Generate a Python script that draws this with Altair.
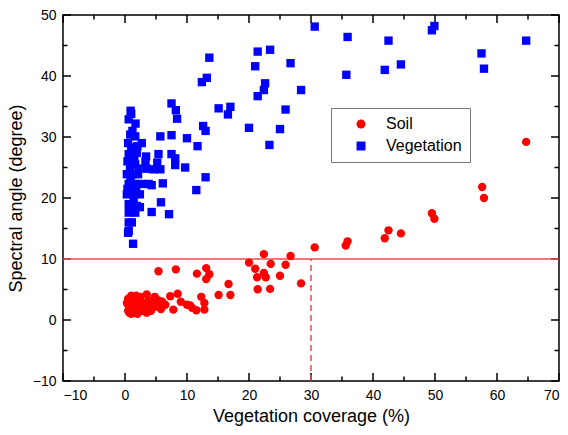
import altair as alt
import pandas as pd

# ---- data ----
soil_x = [64.7, 57.6, 57.9, 49.5, 49.9, 42.5, 41.9, 44.5, 35.9, 35.6, 30.6, 26.7, 22.4, 20.0,
          21.0, 23.5, 25.9, 22.4, 21.3, 22.7, 25.0, 21.4, 23.4, 28.4, 16.7, 15.1, 17.0, 13.1,
          13.6, 13.1, 11.6, 12.3, 12.8, 11.5, 12.8, 10.5, 5.4, 8.2, 3.5, 5.4, 7.3, 8.5, 7.8,
          10.0, 10.8, 6.5, 9.0,
          0.5, 0.5, 0.5, 0.8, 0.8, 1.0, 1.0, 1.2, 1.5, 1.5, 1.8, 1.8, 2.0, 2.2, 2.5, 2.5, 2.8,
          3.0, 3.2, 0.3, 1.3, 2.0, 2.7, 4.0, 4.5, 4.2, 5.0, 5.8, 6.0, 4.8, 3.8, 1.6, 0.7, 2.3, 3.5]
soil_y = [29.2, 21.8, 20.0, 17.5, 16.6, 14.7, 13.4, 14.2, 12.9, 12.2, 11.9, 10.5, 10.8, 9.4,
          8.4, 9.2, 9.05, 7.7, 7.0, 7.0, 7.25, 5.05, 5.1, 6.0, 5.9, 4.1, 4.1, 8.5,
          7.5, 6.7, 7.6, 3.8, 2.8, 1.6, 1.7, 2.4, 8.0, 8.3, 4.2, 3.2, 3.9, 4.3, 1.7,
          2.5, 2.0, 2.5, 3.0,
          1.5, 2.5, 3.5, 2.0, 3.0, 1.0, 4.0, 2.5, 1.5, 3.2, 2.2, 4.0, 1.0, 3.0, 2.0, 3.8, 1.5,
          2.8, 1.8, 2.8, 1.2, 2.6, 2.4, 2.0, 3.0, 1.5, 2.2, 1.8, 3.0, 3.8, 3.2, 3.8, 1.2, 1.6, 1.2]

veg_x = [30.6, 35.9, 35.7, 42.5, 41.9, 44.5, 49.5, 49.9, 57.5, 57.9, 64.7, 26.7, 28.4, 25.9,
         25.0, 23.3, 20.0, 21.4, 23.4, 21.0, 22.6, 22.4, 21.4, 13.6, 13.2, 12.4, 15.1, 17.0,
         16.6, 12.6, 13.0, 11.7, 13.0, 10.0, 7.5, 5.7, 7.5, 8.2, 8.4, 5.4, 7.5, 8.1, 8.1, 5.2,
         9.7, 4.6, 5.7, 6.1, 4.3, 11.5, 5.8, 7.1, 4.3, 3.4, 3.5, 3.8, 2.7,
         0.9, 0.6, 1.7, 0.85, 1.65, 1.0, 0.6, 1.9, 3.3, 0.85, 1.65, 0.3, 1.3, 2.1, 0.6, 1.65,
         2.7, 0.3, 1.3, 2.4, 0.6, 1.9, 2.4, 0.6, 1.65, 0.6, 1.1, 0.6, 1.3, 0.5,
         0.4, 1.0, 0.8, 1.5, 0.5, 1.2, 2.0, 0.7, 1.4, 0.9, 1.8, 0.4, 2.2, 1.0]
veg_y = [48.1, 46.4, 40.2, 45.8, 41.0, 41.9, 47.5, 48.2, 43.7, 41.2, 45.8, 42.1, 37.7, 34.5,
         31.3, 28.7, 31.5, 44.0, 44.3, 41.6, 38.8, 37.7, 36.7, 43.0, 39.7, 39.0, 34.7, 34.95,
         33.7, 31.8, 31.0, 28.5, 23.4, 29.8, 30.3, 30.1, 35.5, 34.4, 33.0, 27.2, 27.2, 26.5, 25.4, 25.8,
         25.0, 24.7, 24.7, 22.4, 22.1, 21.3, 19.3, 17.35, 17.7, 26.8, 24.8, 22.3, 29.0,
         34.3, 32.9, 32.2, 30.4, 30.1, 28.3, 27.2, 27.4, 26.0, 25.5, 25.5, 23.9, 23.9, 23.9, 22.3, 22.3,
         22.3, 20.6, 20.6, 20.6, 19.0, 18.7, 18.5, 17.6, 17.6, 16.0, 16.0, 14.6, 12.5, 14.3,
         21.5, 21.0, 24.5, 26.5, 29.0, 31.0, 28.5, 18.3, 19.8, 23.0, 21.5, 26.0, 24.8, 33.8]

threshold_y = [10]
threshold_x = [30]
x_domain = [-10, 70]
y_domain = [-10, 50]
x_major = [-10, 0, 10, 20, 30, 40, 50, 60, 70]
x_minor = [-5, 5, 15, 25, 35, 45, 55, 65]
y_major = [-10, 0, 10, 20, 30, 40, 50]
y_minor = [-5, 5, 15, 25, 35, 45]

W, H = 496, 366
FONT = "Liberation Sans"
MAJOR, MINOR = 8, 4.5

df = pd.DataFrame({
    "x": soil_x + veg_x,
    "y": soil_y + veg_y,
    "type": ["Soil"] * len(soil_x) + ["Vegetation"] * len(veg_x),
})
hline = pd.DataFrame({"y": threshold_y})
vline = pd.DataFrame({"x": threshold_x, "y0": [y_domain[0]], "y1": threshold_y})

xs = alt.Scale(domain=x_domain, nice=False, zero=False)
ys = alt.Scale(domain=y_domain, nice=False, zero=False)

legend = alt.Legend(title=None, orient="none", legendX=268, legendY=93,
                    strokeColor="#777777", padding=8, symbolOffset=14,
                    labelOffset=17, rowPadding=6, labelFontSize=16,
                    labelFont=FONT, labelColor="black", symbolSize=80,
                    labelExpr="datum.label + '\u00a0\u00a0\u00a0\u00a0\u00a0\u00a0\u00a0'")

main = alt.Chart(df).mark_point(filled=True, opacity=1, size=70).encode(
    x=alt.X("x:Q", scale=xs, axis=alt.Axis(
        orient="bottom", values=x_major, ticks=False, domain=False, grid=False,
        title="Vegetation coverage (%)", labelFontSize=14, titleFontSize=18,
        labelPadding=7, titlePadding=5, labelColor="black", titleColor="black",
        titleFontWeight="normal", labelFont=FONT, titleFont=FONT)),
    y=alt.Y("y:Q", scale=ys, axis=alt.Axis(
        orient="left", values=y_major, ticks=False, domain=False, grid=False,
        title="Spectral angle (degree)", labelFontSize=14, titleFontSize=18,
        labelPadding=7, titlePadding=7, labelColor="black", titleColor="black",
        titleFontWeight="normal", labelFont=FONT, titleFont=FONT)),
    color=alt.Color("type:N", scale=alt.Scale(domain=["Soil", "Vegetation"],
                                              range=["#ff0000", "#0000ff"]),
                    legend=legend),
    shape=alt.Shape("type:N", scale=alt.Scale(domain=["Soil", "Vegetation"],
                                              range=["circle", "square"]),
                    legend=legend),
)

hrule = alt.Chart(hline).mark_rule(color="#f04848", strokeWidth=1.5).encode(
    y=alt.Y("y:Q", scale=ys, axis=None))
vrule = alt.Chart(vline).mark_rule(color="#f04848", strokeWidth=1.5, strokeDash=[6, 4]).encode(
    x=alt.X("x:Q", scale=xs, axis=None), y=alt.Y("y0:Q", scale=ys, axis=None), y2="y1:Q")


def xticks(vals, edge, length, direction):
    # vertical ticks on the bottom (direction=-1) or top (direction=+1) edge, pointing inward
    d = pd.DataFrame({"tx": vals, "ty": [edge] * len(vals)})
    return alt.Chart(d).mark_tick(orient="vertical", color="black", thickness=1.5,
                                  size=length, opacity=1,
                                  yOffset=direction * length / 2).encode(
        x=alt.X("tx:Q", scale=xs, axis=None), y=alt.Y("ty:Q", scale=ys, axis=None))


def yticks(vals, edge, length, direction):
    # horizontal ticks on the left (direction=+1) or right (direction=-1) edge, pointing inward
    d = pd.DataFrame({"ty": vals, "tx": [edge] * len(vals)})
    return alt.Chart(d).mark_tick(orient="horizontal", color="black", thickness=1.5,
                                  size=length, opacity=1,
                                  xOffset=direction * length / 2).encode(
        x=alt.X("tx:Q", scale=xs, axis=None), y=alt.Y("ty:Q", scale=ys, axis=None))


ticks = [
    xticks(x_major, y_domain[0], MAJOR, -1), xticks(x_minor, y_domain[0], MINOR, -1),
    xticks(x_major, y_domain[1], MAJOR, 1), xticks(x_minor, y_domain[1], MINOR, 1),
    yticks(y_major, x_domain[0], MAJOR, 1), yticks(y_minor, x_domain[0], MINOR, 1),
    yticks(y_major, x_domain[1], MAJOR, -1), yticks(y_minor, x_domain[1], MINOR, -1),
]

chart = alt.layer(*ticks, hrule, vrule, main).resolve_axis(
    x="independent", y="independent"
).properties(
    width=W, height=H, background="white",
    autosize=alt.AutoSizeParams(type="none"),
    padding={"left": 63, "top": 15, "right": 9, "bottom": 54},
).configure_view(stroke="black", strokeWidth=1.5)

chart.save("out.html", embed_options={"renderer": "svg", "actions": False})
